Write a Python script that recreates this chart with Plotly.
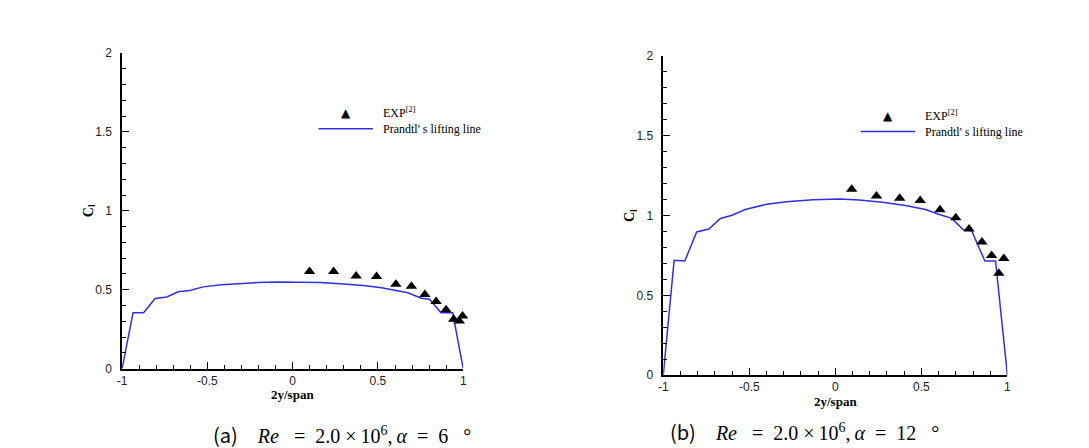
import plotly.graph_objects as go

# ---- data: (a) Re=2e6, alpha=6 deg ----
line_a_x = [-1.0, -0.936, -0.874, -0.806, -0.738, -0.671, -0.603, -0.525, -0.419, -0.322,
            -0.205, -0.089, 0.047, 0.163, 0.298, 0.415, 0.521, 0.599, 0.676, 0.754,
            0.802, 0.870, 0.938, 1.0]
line_a_y = [0.0, 0.354, 0.354, 0.444, 0.454, 0.487, 0.495, 0.518, 0.532, 0.540,
            0.545, 0.549, 0.549, 0.545, 0.536, 0.526, 0.512, 0.495, 0.481, 0.446,
            0.440, 0.354, 0.354, 0.0]
exp_a_x = [0.099, 0.240, 0.372, 0.492, 0.605, 0.696, 0.775, 0.841, 0.899, 0.944, 0.977, 0.996]
exp_a_y = [0.616, 0.616, 0.587, 0.583, 0.534, 0.522, 0.469, 0.426, 0.373, 0.313, 0.301, 0.334]

# ---- data: (b) Re=2e6, alpha=12 deg ----
line_b_x = [-1.0, -0.937, -0.875, -0.806, -0.735, -0.668, -0.600, -0.524, -0.399, -0.283,
            -0.130, 0.024, 0.139, 0.274, 0.408, 0.524, 0.600, 0.677, 0.744, 0.792,
            0.869, 0.931, 1.0]
line_b_y = [0.0, 0.719, 0.715, 0.897, 0.915, 0.982, 1.002, 1.038, 1.071, 1.087,
            1.099, 1.103, 1.097, 1.083, 1.063, 1.038, 1.008, 0.982, 0.911, 0.905,
            0.715, 0.715, 0.0]
exp_b_x = [0.095, 0.239, 0.374, 0.493, 0.608, 0.700, 0.777, 0.852, 0.908, 0.950, 0.979]
exp_b_y = [1.164, 1.123, 1.109, 1.095, 1.036, 0.986, 0.915, 0.834, 0.749, 0.638, 0.731]

x_ticks = [-1, -0.5, 0, 0.5, 1]
x_tick_labels = ["-1", "-0.5", "0", "0.5", "1"]
y_ticks = [0, 0.5, 1, 1.5, 2]
y_tick_labels = ["0", "0.5", "1", "1.5", "2"]

captions = ["(a)", "(b)"]
alphas = ["6", "12"]

W, H = 1089, 448
LINE_COLOR = "#3030e0"

fig = go.Figure()
fig.add_trace(go.Scatter(x=line_a_x, y=line_a_y, mode="lines", line=dict(color=LINE_COLOR, width=1.5),
                         xaxis="x", yaxis="y", showlegend=False, cliponaxis=False))
fig.add_trace(go.Scatter(x=exp_a_x, y=exp_a_y, mode="markers",
                         marker=dict(symbol="triangle-up", color="black", size=10),
                         xaxis="x", yaxis="y", showlegend=False, cliponaxis=False))
fig.add_trace(go.Scatter(x=line_b_x, y=line_b_y, mode="lines", line=dict(color=LINE_COLOR, width=1.5),
                         xaxis="x2", yaxis="y2", showlegend=False, cliponaxis=False))
fig.add_trace(go.Scatter(x=exp_b_x, y=exp_b_y, mode="markers",
                         marker=dict(symbol="triangle-up", color="black", size=10),
                         xaxis="x2", yaxis="y2", showlegend=False, cliponaxis=False))

# pixel geometry of the two plot areas: (left, right, top, bottom)
boxes = [(110, 454, 39.3, 365), (655.7, 1002.7, 42.3, 371.7)]

def px(x):
    return x / W

def py(y):
    return 1 - y / H

tickfont = dict(family="Liberation Sans, Arial", size=12, color="#222")
common_x = dict(range=[-1, 1], tickmode="array", tickvals=x_ticks, ticktext=x_tick_labels,
                showline=True, linecolor="black", linewidth=1.5, ticks="inside", ticklen=7,
                tickwidth=1, tickcolor="black", showgrid=False, zeroline=False, tickfont=tickfont,
                minor=dict(dtick=0.1, tick0=0, ticks="inside", ticklen=4, tickcolor="black", tickwidth=1),
                fixedrange=True, ticklabelstandoff=0)
common_y = dict(range=[0, 2], tickmode="array", tickvals=y_ticks, ticktext=y_tick_labels,
                showline=True, linecolor="black", linewidth=1.5, ticks="inside", ticklen=7,
                tickwidth=1, tickcolor="black", showgrid=False, zeroline=False, tickfont=tickfont,
                minor=dict(dtick=0.1, tick0=0, ticks="inside", ticklen=4, tickcolor="black", tickwidth=1),
                fixedrange=True, ticklabelstandoff=6)

(l1, r1, t1, b1), (l2, r2, t2, b2) = boxes
fig.update_layout(
    width=W, height=H, margin=dict(l=0, r=0, t=0, b=0),
    paper_bgcolor="white", plot_bgcolor="white", showlegend=False,
    xaxis=dict(domain=[px(l1), px(r1)], anchor="y", **common_x),
    yaxis=dict(domain=[py(b1), py(t1)], anchor="x", **common_y),
    xaxis2=dict(domain=[px(l2), px(r2)], anchor="y2", **common_x),
    yaxis2=dict(domain=[py(b2), py(t2)], anchor="x2", **common_y),
)

annotations = []
shapes = []
serif = "Liberation Serif, Times New Roman, serif"
for i, (l, r, t, b) in enumerate(boxes):
    cx = (l + r) / 2
    cy = (t + b) / 2
    # x axis title
    annotations.append(dict(x=px(cx), y=py(b + 27), xref="paper", yref="paper",
                            text="<b>2y/span</b>", showarrow=False,
                            font=dict(family=serif, size=13, color="black"),
                            xanchor="center", yanchor="middle", borderpad=0))
    # y axis title
    annotations.append(dict(x=px(l - 33), y=py(cy), xref="paper", yref="paper",
                            text="<b>C<sub>l</sub></b>", showarrow=False, textangle=-90,
                            font=dict(family=serif, size=14, color="black"),
                            xanchor="center", yanchor="middle"))
    # legend
    lx0 = l + 198 if i == 0 else l + 199
    ly_tri = t + 61.5
    ly_line = t + 78
    shapes.append(dict(type="line", xref="paper", yref="paper",
                       x0=px(lx0), x1=px(lx0 + 55), y0=py(ly_line), y1=py(ly_line),
                       line=dict(color=LINE_COLOR, width=1.5)))
    annotations.append(dict(x=px(lx0 + 27.5), y=py(ly_tri), xref="paper", yref="paper",
                            text="▲", showarrow=False,
                            font=dict(family="DejaVu Sans", size=12, color="black"),
                            xanchor="center", yanchor="middle"))
    annotations.append(dict(x=px(lx0 + 63), y=py(ly_tri), xref="paper", yref="paper",
                            text="EXP<sup>[2]</sup>", showarrow=False,
                            font=dict(family=serif, size=12, color="black"),
                            xanchor="left", yanchor="middle"))
    annotations.append(dict(x=px(lx0 + 63), y=py(ly_line), xref="paper", yref="paper",
                            text="Prandtl' s lifting line", showarrow=False,
                            font=dict(family=serif, size=12, color="black"),
                            xanchor="left", yanchor="middle"))

cap_x = [200, 660]
cap_y = [433, 430]
S = "\u00a0"
T = "\u2009"
for i in range(2):
    txt = ('<span style="font-family:Noto Sans CJK KR, Liberation Sans">' + captions[i] + '</span>'
           + S * 4 + '<i>Re</i>' + S * 3 + '=' + S * 2 + '2.0' + S + '×' + T + '10<sup>6</sup>,' + T + '<i>α</i>'
           + S * 2 + '=' + S * 2 + alphas[i] + S * 3 + '°')
    annotations.append(dict(x=px(cap_x[i]), y=py(cap_y[i]), xref="paper", yref="paper",
                            text=txt, showarrow=False, align="left",
                            font=dict(family=serif, size=20, color="black"),
                            xanchor="left", yanchor="middle"))

fig.update_layout(annotations=annotations, shapes=shapes)
fig.write_html("out.html")
